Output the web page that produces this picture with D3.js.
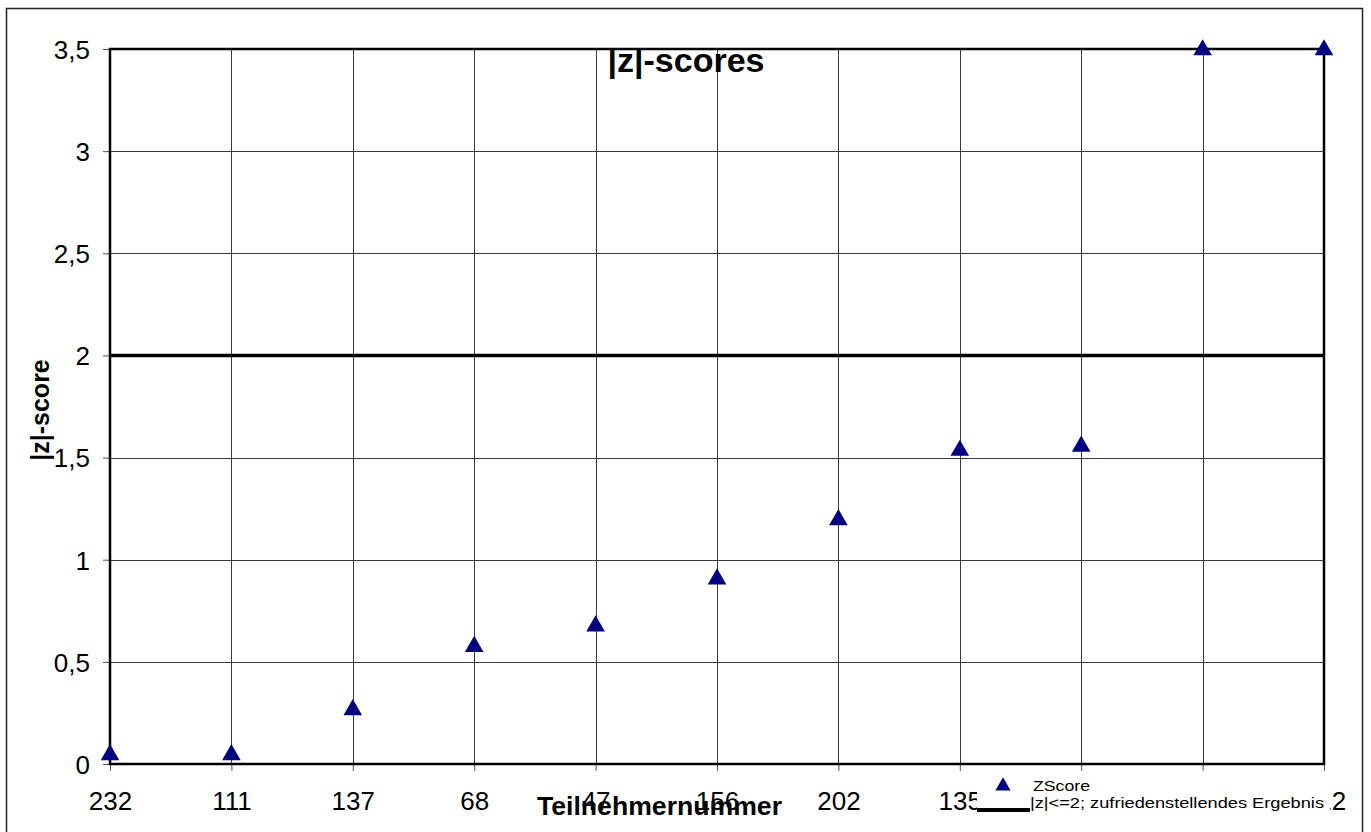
<!DOCTYPE html>
<html>
<head>
<meta charset="utf-8">
<script src="https://cdn.jsdelivr.net/npm/d3@7"></script>
<style>
  body { margin: 0; background: #fff; }
  svg { font-family: "Liberation Sans", Arial, sans-serif; }
</style>
</head>
<body>
<div id="chart"></div>
<script>
// data
var participants = ["232", "111", "137", "68", "47", "156", "202", "135", "103", "21", "212"];
var zScores = [0.05, 0.05, 0.27, 0.58, 0.68, 0.91, 1.2, 1.54, 1.56, 3.5, 3.5];
var yTicks = [0, 0.5, 1, 1.5, 2, 2.5, 3, 3.5];
var limit = 2;

var width = 1371, height = 832;
var margin = {left: 110, right: 47, top: 49, bottom: 68};

var svg = d3.select("#chart").append("svg")
    .attr("width", width).attr("height", height);

// outer frame
svg.append("rect")
    .attr("x", 6.5).attr("y", 8.5)
    .attr("width", 1356).attr("height", 830)
    .attr("fill", "none").attr("stroke", "#222").attr("stroke-width", 1.5);

var x = d3.scalePoint()
    .domain(participants)
    .range([margin.left, width - margin.right]);

var y = d3.scaleLinear()
    .domain([0, 3.5])
    .range([height - margin.bottom, margin.top]);

var fmt = function(d){ return String(d).replace(".", ","); };

// grid
svg.append("g").selectAll("line.h")
    .data(yTicks.slice(1))
    .enter().append("line")
    .attr("x1", margin.left).attr("x2", width - margin.right)
    .attr("y1", function(d){ return Math.round(y(d)) + 0.5; })
    .attr("y2", function(d){ return Math.round(y(d)) + 0.5; })
    .attr("stroke", "#3a3a3a").attr("stroke-width", 1);

svg.append("g").selectAll("line.v")
    .data(participants.slice(1))
    .enter().append("line")
    .attr("x1", function(d){ return Math.round(x(d)) + 0.5; })
    .attr("x2", function(d){ return Math.round(x(d)) + 0.5; })
    .attr("y1", margin.top).attr("y2", height - margin.bottom)
    .attr("stroke", "#3a3a3a").attr("stroke-width", 1);

// axes
var xAxis = svg.append("g")
    .attr("transform", "translate(0," + (height - margin.bottom) + ")")
    .call(d3.axisBottom(x).tickSize(7).tickPadding(21));
xAxis.select(".domain").remove();
xAxis.selectAll("line").attr("stroke", "#555");
xAxis.selectAll("text").attr("font-size", 26).attr("fill", "#000")
    .style("font-family", "Liberation Sans, Arial, sans-serif");

var yAxis = svg.append("g")
    .attr("transform", "translate(" + margin.left + ",0)")
    .call(d3.axisLeft(y).tickValues(yTicks).tickFormat(fmt).tickSize(7).tickPadding(13));
yAxis.select(".domain").remove();
yAxis.selectAll("line").attr("stroke", "#555");
yAxis.selectAll("text").attr("font-size", 26).attr("fill", "#000").attr("dy", "0.36em")
    .style("font-family", "Liberation Sans, Arial, sans-serif");

// plot frame
svg.append("rect")
    .attr("x", margin.left).attr("y", margin.top)
    .attr("width", width - margin.right - margin.left)
    .attr("height", height - margin.bottom - margin.top)
    .attr("fill", "none").attr("stroke", "#000").attr("stroke-width", 2.5);

// limit line
svg.append("line")
    .attr("x1", margin.left).attr("x2", width - margin.right)
    .attr("y1", y(limit)).attr("y2", y(limit))
    .attr("stroke", "#000").attr("stroke-width", 3.5);

// markers
var tri = d3.symbol().type(d3.symbolTriangle).size(150);
svg.append("g").selectAll("path")
    .data(zScores)
    .enter().append("path")
    .attr("d", tri)
    .attr("transform", function(d, i){ return "translate(" + x(participants[i]) + "," + (y(d) + 1) + ")"; })
    .attr("fill", "#000080");

// titles
svg.append("text")
    .attr("x", 686).attr("y", 72)
    .attr("text-anchor", "middle")
    .attr("font-size", 34).attr("font-weight", "bold")
    .text("|z|-scores");

svg.append("text")
    .attr("x", 537).attr("y", 815)
    .attr("font-size", 25).attr("font-weight", "bold")
    .attr("textLength", 245).attr("lengthAdjust", "spacingAndGlyphs")
    .text("Teilnehmernummer");

svg.append("text")
    .attr("transform", "translate(49,410) rotate(-90)")
    .attr("text-anchor", "middle")
    .attr("font-size", 25).attr("font-weight", "bold")
    .text("|z|-score");

// legend
var legend = svg.append("g");
legend.append("rect")
    .attr("x", 977).attr("y", 772)
    .attr("width", 353).attr("height", 56)
    .attr("fill", "#fff");
legend.append("path")
    .attr("d", d3.symbol().type(d3.symbolTriangle).size(100))
    .attr("transform", "translate(1003,786)")
    .attr("fill", "#000080");
legend.append("text")
    .attr("x", 1033).attr("y", 791)
    .attr("font-size", 14)
    .attr("textLength", 57).attr("lengthAdjust", "spacingAndGlyphs")
    .text("ZScore");
legend.append("line")
    .attr("x1", 977).attr("x2", 1030)
    .attr("y1", 810).attr("y2", 810)
    .attr("stroke", "#000").attr("stroke-width", 4);
legend.append("text")
    .attr("x", 1030).attr("y", 808)
    .attr("font-size", 14)
    .attr("textLength", 294).attr("lengthAdjust", "spacingAndGlyphs")
    .text("|z|<=2; zufriedenstellendes Ergebnis");
</script>
</body>
</html>
